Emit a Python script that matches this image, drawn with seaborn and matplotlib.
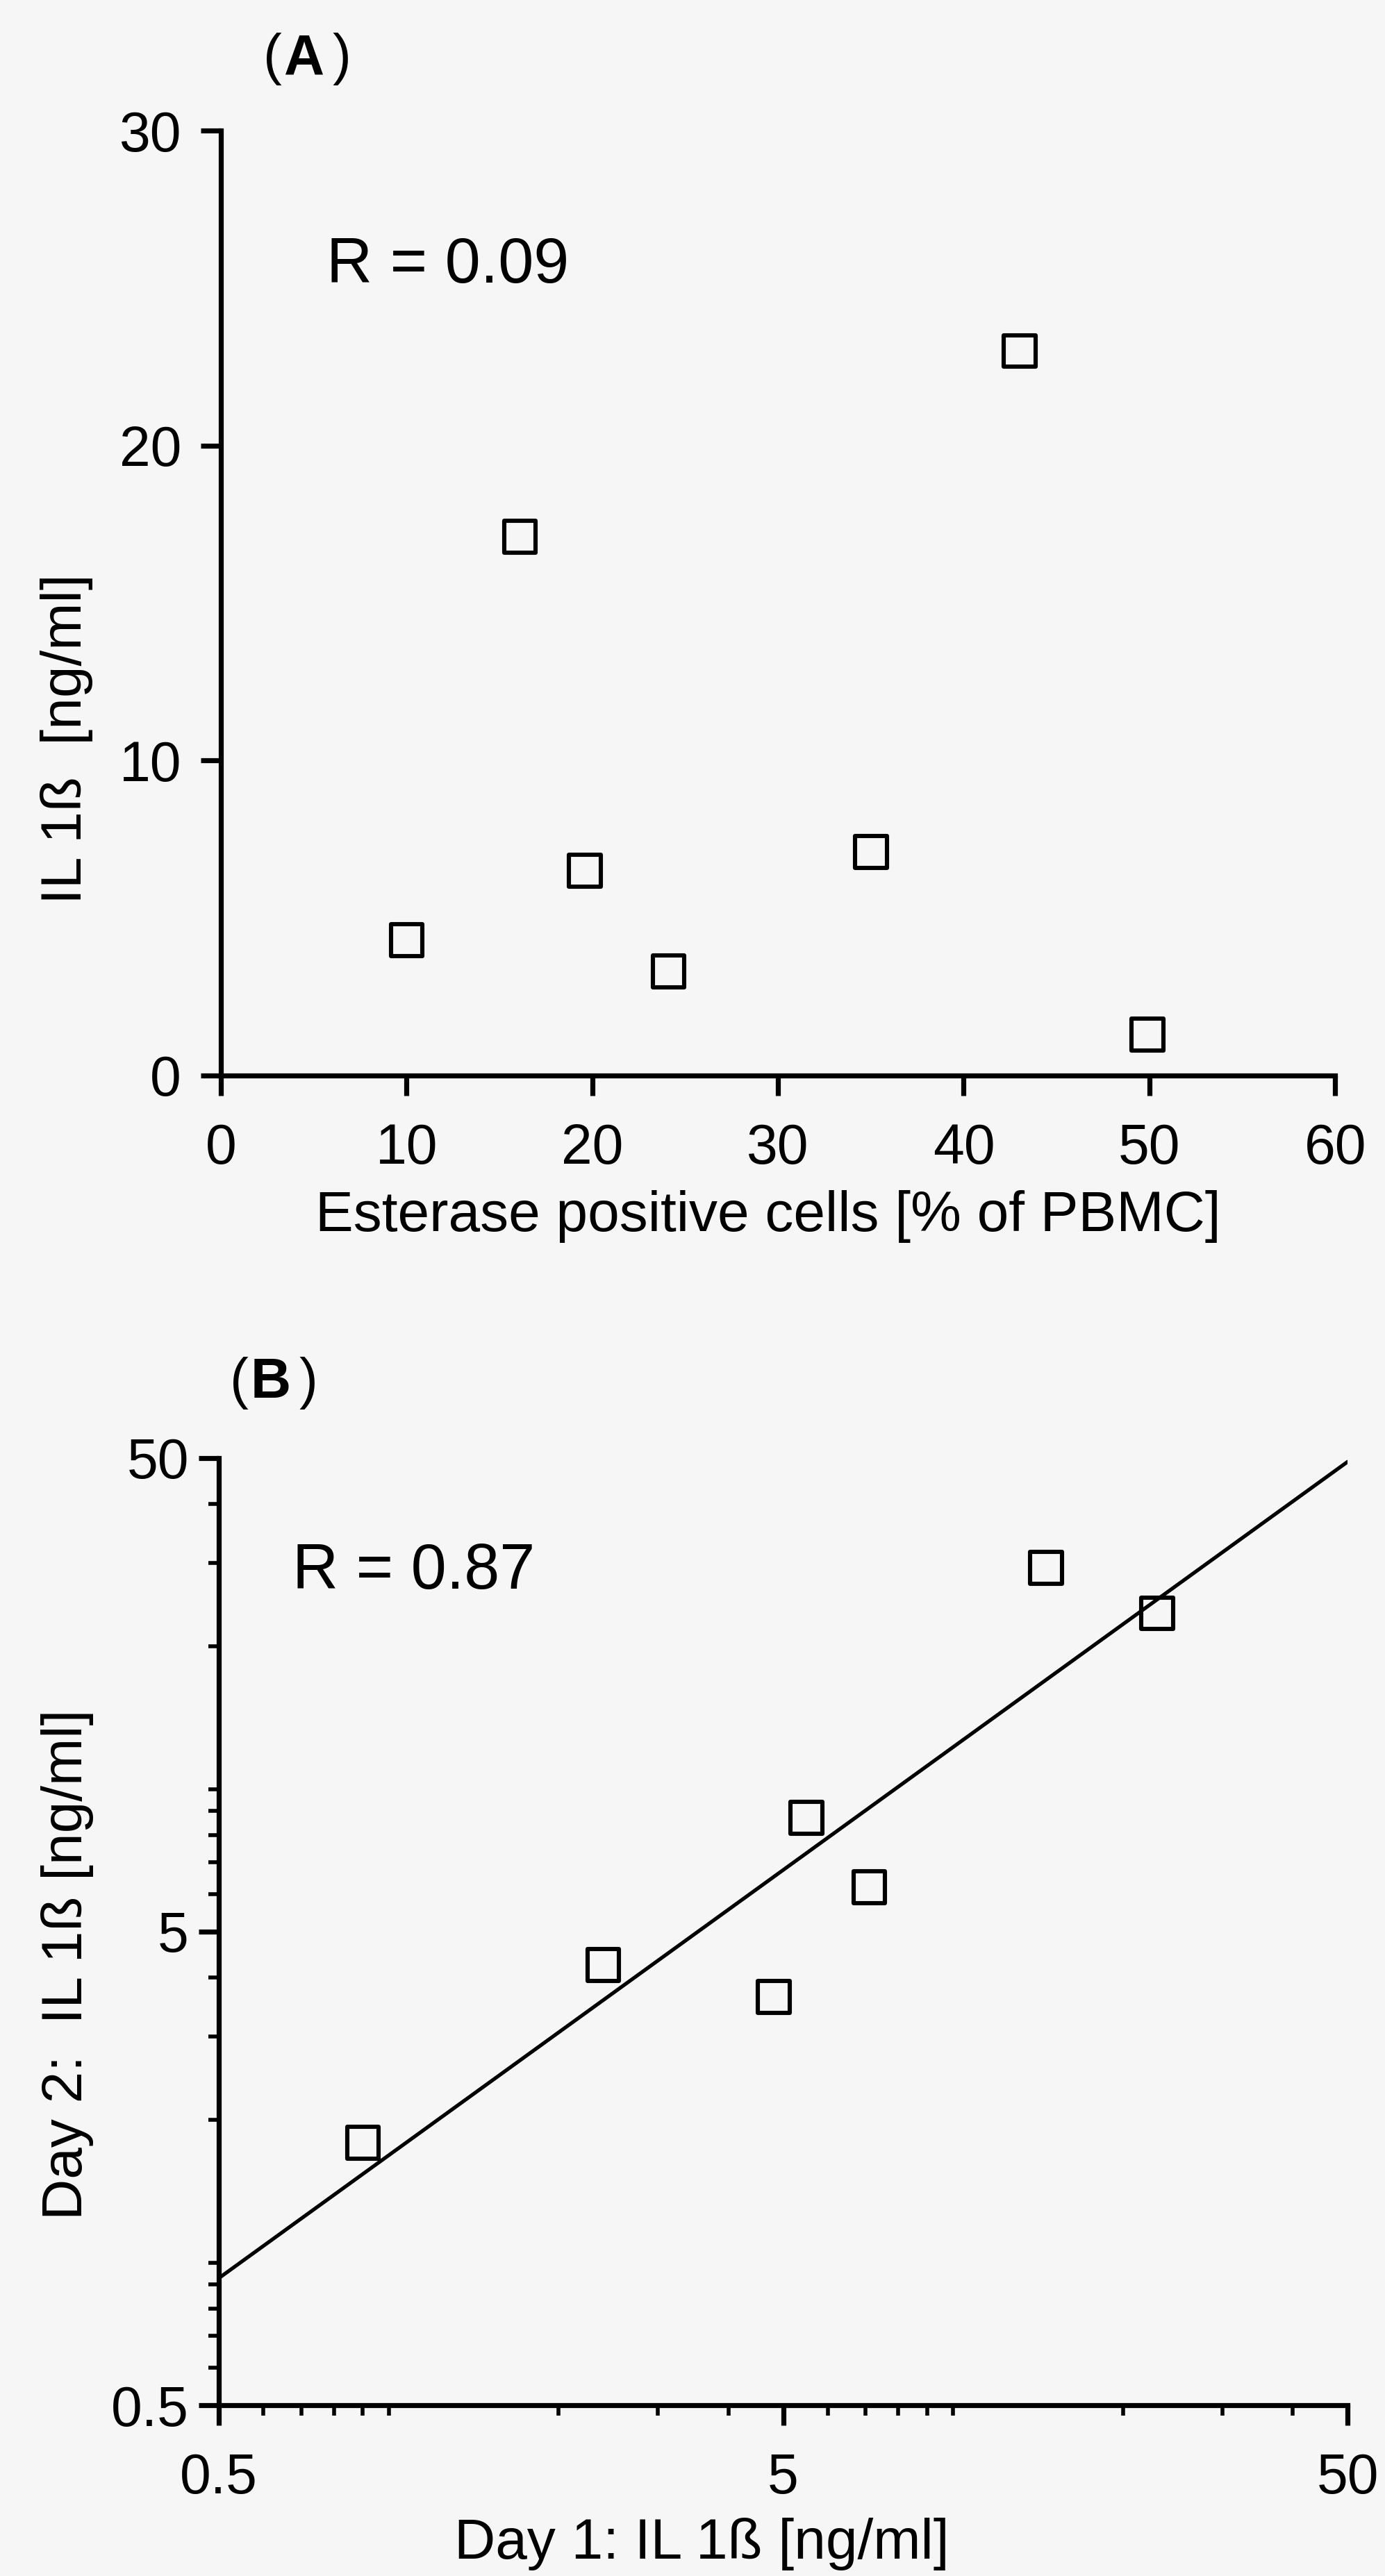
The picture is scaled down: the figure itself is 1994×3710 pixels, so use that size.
import numpy as np
import pandas as pd
import seaborn as sns
import matplotlib.pyplot as plt
from matplotlib.ticker import LogLocator, NullFormatter, FixedLocator, FixedFormatter

# Panel A: esterase positive cells vs IL 1ß
esterase = [10.0, 16.1, 19.6, 24.1, 35.0, 43.0, 49.9]
il1b_a = [4.3, 17.1, 6.5, 3.3, 7.1, 23.0, 1.3]

# Panel B: day 1 vs day 2 IL 1ß (log-log)
day1 = [0.90, 2.40, 4.81, 5.5, 7.1, 14.6, 23.0]
day2 = [1.79, 4.25, 3.64, 8.7, 6.2, 29.3, 23.5]

r_a = "R = 0.09"
r_b = "R = 0.87"

bg = "#f6f6f6"
sns.set_theme(style="ticks")
plt.rcParams["font.family"] = ["Liberation Sans", "DejaVu Sans"]
plt.rcParams.update({
    "text.color": "black", "axes.labelcolor": "black",
    "axes.linewidth": 2.6,
    "xtick.major.width": 2.6, "ytick.major.width": 2.6,
    "xtick.minor.width": 2.0, "ytick.minor.width": 2.0,
    "xtick.major.size": 10.5, "ytick.major.size": 10.5,
    "xtick.minor.size": 5.5, "ytick.minor.size": 5.5,
    "xtick.color": "black", "ytick.color": "black",
    "xtick.labelcolor": "black", "ytick.labelcolor": "black",
    "axes.edgecolor": "black",
})

fig = plt.figure(figsize=(9.97, 18.55), dpi=200, facecolor=bg)
ax1 = fig.add_axes([0.1595, 0.5825, 0.8045, 0.3668])
ax2 = fig.add_axes([0.158, 0.0663, 0.815, 0.3677])

df_a = pd.DataFrame({"x": esterase, "y": il1b_a})
df_b = pd.DataFrame({"x": day1, "y": day2})

for ax in (ax1, ax2):
    ax.set_facecolor(bg)
    sns.despine(ax=ax)

# --- Panel A ---
sns.scatterplot(data=df_a, x="x", y="y", marker="s", s=270, ax=ax1,
                color="black", linewidth=2.2, zorder=3)
ax1.collections[-1].set_facecolor("none")
ax1.collections[-1].set_edgecolor("black")
ax1.set_xlim(0, 60)
ax1.set_ylim(0, 30)
ax1.set_xticks(range(0, 61, 10))
ax1.set_yticks([0, 10, 20, 30])
ax1.tick_params(axis="both", labelsize=29, pad=10)
ax1.tick_params(axis="x", pad=14)
ax1.set_xlabel("Esterase positive cells [% of PBMC]", fontsize=29.5)
ax1.set_ylabel("IL 1ß  [ng/ml]", fontsize=29.5)
ax1.xaxis.set_label_coords(0.491, -0.121)
ax1.yaxis.set_label_coords(-0.115, 0.356)
ax1.text(0.095, 0.857, r_a, transform=ax1.transAxes, fontsize=33,
         va="center", ha="left")
fig.text(0.19, 0.977, "(", fontsize=29, va="center", ha="left")
fig.text(0.205, 0.977, "A", fontsize=29, fontweight="bold", va="center", ha="left")
fig.text(0.24, 0.977, ")", fontsize=29, va="center", ha="left")

# --- Panel B ---
lx, ly = np.log10(day1), np.log10(day2)
slope, icpt = np.polyfit(lx, ly, 1)
xfit = np.array([0.5, 50])
fit = pd.DataFrame({"x": xfit, "y": 10 ** (icpt + slope * np.log10(xfit))})
sns.lineplot(data=fit, x="x", y="y", ax=ax2, color="black", linewidth=1.9)
sns.scatterplot(data=df_b, x="x", y="y", marker="s", s=270, ax=ax2,
                color="black", linewidth=2.2, zorder=3)
ax2.collections[-1].set_facecolor("none")
ax2.collections[-1].set_edgecolor("black")
ax2.set_xscale("log")
ax2.set_yscale("log")
ax2.set_xlim(0.5, 50)
ax2.set_ylim(0.5, 50)
for axis in (ax2.xaxis, ax2.yaxis):
    axis.set_major_locator(FixedLocator([0.5, 5, 50]))
    axis.set_major_formatter(FixedFormatter(["0.5", "5", "50"]))
    axis.set_minor_locator(LogLocator(base=10, subs=np.arange(1, 10)))
    axis.set_minor_formatter(NullFormatter())
ax2.tick_params(axis="both", labelsize=29)
ax2.tick_params(axis="x", which="major", pad=14)
ax2.tick_params(axis="y", which="major", pad=5)
ax2.set_xlabel("Day 1: IL 1ß [ng/ml]", fontsize=29.5)
ax2.set_ylabel("Day 2:  IL 1ß [ng/ml]", fontsize=29.5)
ax2.xaxis.set_label_coords(0.428, -0.119)
ax2.yaxis.set_label_coords(-0.111, 0.465)
ax2.text(0.065, 0.880, r_b, transform=ax2.transAxes, fontsize=33,
         va="center", ha="left")
fig.text(0.166, 0.463, "(", fontsize=29, va="center", ha="left")
fig.text(0.181, 0.463, "B", fontsize=29, fontweight="bold", va="center", ha="left")
fig.text(0.216, 0.463, ")", fontsize=29, va="center", ha="left")

fig.savefig("out.png", dpi=200, facecolor=bg)
